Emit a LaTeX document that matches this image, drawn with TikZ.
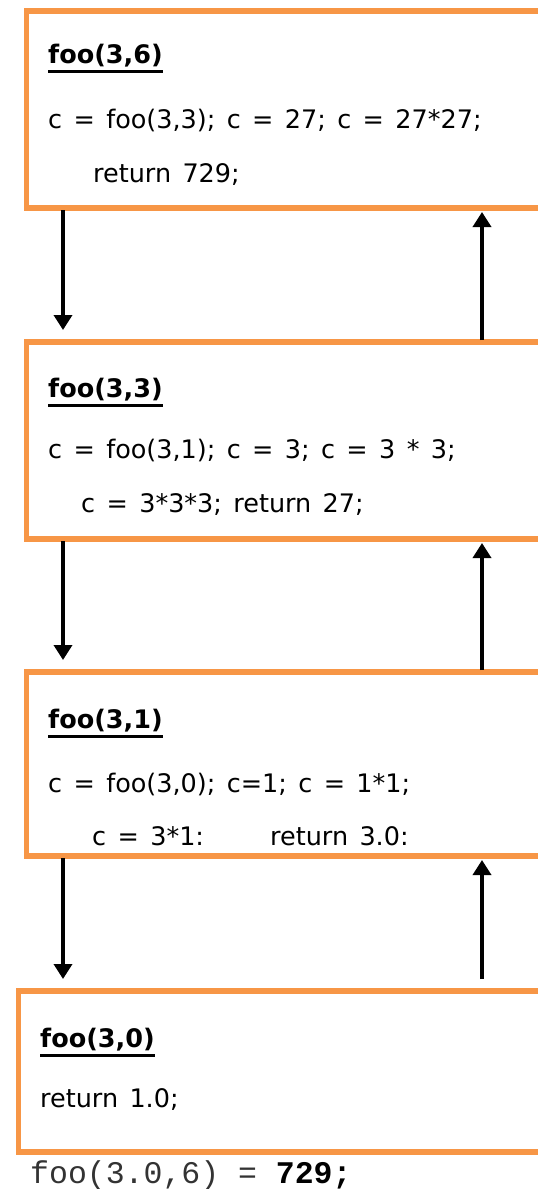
\documentclass[tikz,border=0pt]{standalone}
\usepackage{fontspec}
\setmainfont{DejaVu Sans}[WordSpace=1.4]
\setmonofont{Liberation Mono}
\usetikzlibrary{arrows.meta}
\definecolor{boxorange}{HTML}{F79646}
\definecolor{codegray}{HTML}{333333}
\begin{document}
\begin{tikzpicture}[x=1pt,y=-1pt,
  framebox/.style={draw=boxorange,line width=5.5pt,fill=white,rectangle,anchor=north west,inner sep=0pt,outer sep=0pt},
  txt/.style={anchor=base west,inner sep=0pt,font=\fontsize{25.5}{29}\selectfont},
  ttl/.style={txt,font=\fontsize{25.5}{29}\selectfont\bfseries},
  uline/.style={line width=2.2pt,black},
  arr/.style={line width=3.5pt,-{Triangle[length=15pt,width=18pt]}}]
\useasboundingbox (0,0) rectangle (538,1189);
\fill[white] (0,0) rectangle (538,1189);
% boxes
\node[framebox,minimum width=540pt,minimum height=197pt] (b1) at (26.5,11) {};
\node[framebox,minimum width=540pt,minimum height=197pt] (b2) at (26.5,342) {};
\node[framebox,minimum width=540pt,minimum height=184pt] (b3) at (26.5,672) {};
\node[framebox,minimum width=550pt,minimum height=161pt] (b4) at (18.5,991) {};
% texts box 1
\node[ttl] (t1a) at (48,63) {foo(3,6)};
\node[txt] (t1b) at (48,128) {c = foo(3,3); c = 27; c = 27*27;};
\node[txt] (t1c) at (93,182) {return 729;};
% box 2
\node[ttl] (t2a) at (48,397) {foo(3,3)};
\node[txt] (t2b) at (48,458) {c = foo(3,1); c = 3; c = 3 * 3;};
\node[txt] (t2c) at (81,512) {c = 3*3*3; return 27;};
% box 3
\node[ttl] (t3a) at (48,728) {foo(3,1)};
\node[txt] (t3b) at (48,792) {c = foo(3,0); c=1; c = 1*1;};
\node[txt] (t3c) at (92,845) {c = 3*1:};
\node[txt] (t3d) at (270,845) {return 3.0:};
% box 4
\node[ttl] (t4a) at (40,1047) {foo(3,0)};
\node[txt] (t4b) at (40,1107) {return 1.0;};
% underlines
\foreach \t in {t1a,t2a,t3a,t4a}
  \draw[uline] ([yshift=-8.5pt]\t.base west) -- ([yshift=-8.5pt]\t.base east);
% result
\node[anchor=base west,inner sep=0pt,font=\fontsize{31.5}{34}\selectfont\ttfamily,text=codegray] (res) at (30,1183) {foo(3.0,6) = \textcolor{black}{\textbf{729;}}};
% arrows
\draw[arr] ([xshift=36.5pt,yshift=-2pt]b1.south west) -- ([xshift=36.5pt,yshift=12pt]b2.north west);
\draw[arr] ([xshift=36.5pt,yshift=-2pt]b2.south west) -- ([xshift=36.5pt,yshift=12pt]b3.north west);
\draw[arr] ([xshift=36.5pt,yshift=-2pt]b3.south west) -- ([xshift=44.5pt,yshift=12pt]b4.north west);
\draw[arr] ([xshift=455.5pt,yshift=2pt]b2.north west) -- ([xshift=455.5pt,yshift=-4pt]b1.south west);
\draw[arr] ([xshift=455.5pt,yshift=2pt]b3.north west) -- ([xshift=455.5pt,yshift=-4pt]b2.south west);
\draw[arr] ([xshift=463.5pt,yshift=12pt]b4.north west) -- ([xshift=455.5pt,yshift=-4pt]b3.south west);
\end{tikzpicture}
\end{document}
